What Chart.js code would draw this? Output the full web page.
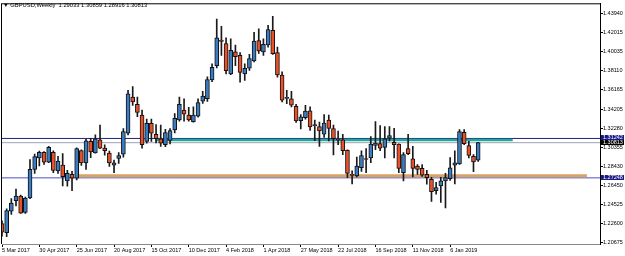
<!DOCTYPE html>
<html>
<head>
<meta charset="utf-8">
<script src="https://cdn.jsdelivr.net/npm/chart.js@4"></script>
<style>
  html, body { margin: 0; padding: 0; background: #fff; }
  #wrap { position: relative; width: 625px; height: 256px; }
  #hdr { position: absolute; left: 3px; top: 2px; font: 5.8px "Liberation Sans", Arial, sans-serif; color: #000; white-space: pre; }
</style>
</head>
<body>
<div id="wrap">
  <canvas id="myChart" width="625" height="256"></canvas>
  <div id="hdr">▼ GBPUSD,Weekly  1.29033 1.30859 1.28916 1.30813</div>
</div>
<script>
// weekly GBPUSD candles, 5 Mar 2017 .. 17 Feb 2019
const open = [1.2262,1.2170,1.2387,1.2494,1.2541,1.2374,1.2521,1.2811,1.2927,1.2984,
  1.2884,1.2984,1.2794,1.2854,1.2694,1.2761,1.2721,1.3001,1.2877,1.3094,
  1.2977,1.3111,1.3027,1.2977,1.2854,1.2921,1.2964,1.3177,1.3544,1.3471,
  1.3361,1.3094,1.3277,1.3167,1.3121,1.3061,1.3104,1.3211,1.3311,1.3411,
  1.3361,1.3294,1.3351,1.3501,1.3527,1.3717,1.3861,1.4120,1.4087,1.3777,
  1.4001,1.3967,1.3777,1.3837,1.3911,1.4117,1.4001,1.4071,1.4221,1.3994,
  1.3767,1.3530,1.3527,1.3451,1.3304,1.3334,1.3405,1.3255,1.3244,1.3167,
  1.3311,1.3224,1.3112,1.3111,1.3005,1.2760,1.2744,1.2827,1.2920,1.2927,
  1.3054,1.3071,1.3034,1.3127,1.3085,1.3067,1.2777,1.3021,1.2917,1.2844,
  1.2821,1.2761,1.2711,1.2594,1.2644,1.2694,1.2717,1.2854,1.2867,1.3187,
  1.3051,1.2944,1.29033];
const high = [1.2290,1.2410,1.2515,1.2612,1.2550,1.2530,1.2911,1.2965,1.2995,1.2990,
  1.3044,1.3000,1.2944,1.2970,1.2800,1.2790,1.3030,1.3010,1.3115,1.3125,
  1.3161,1.3261,1.3060,1.2995,1.2905,1.2980,1.3224,1.3611,1.3650,1.3544,
  1.3411,1.3321,1.3320,1.3265,1.3260,1.3217,1.3225,1.3377,1.3544,1.3527,
  1.3440,1.3445,1.3527,1.3601,1.3750,1.3880,1.4334,1.4261,1.4144,1.4134,
  1.4070,1.3995,1.3880,1.3977,1.4201,1.4234,1.4135,1.4271,1.4361,1.4050,
  1.3800,1.3611,1.3601,1.3470,1.3365,1.3461,1.3445,1.3311,1.3290,1.3365,
  1.3361,1.3260,1.3200,1.3167,1.3010,1.2795,1.2935,1.3000,1.3021,1.3144,
  1.3294,1.3254,1.3244,1.3244,1.3227,1.3070,1.2980,1.3167,1.3044,1.2860,
  1.2860,1.2800,1.2730,1.2680,1.2730,1.2770,1.2930,1.2999,1.3214,1.3214,
  1.3094,1.2960,1.30859];
const low = [1.2135,1.2130,1.2355,1.2440,1.2365,1.2365,1.2515,1.2770,1.2845,1.2860,
  1.2880,1.2777,1.2770,1.2644,1.2640,1.2594,1.2705,1.2850,1.2811,1.2930,
  1.2975,1.3020,1.2955,1.2840,1.2777,1.2870,1.2935,1.3161,1.3460,1.3344,
  1.3027,1.3077,1.3095,1.3080,1.3044,1.3040,1.3070,1.3180,1.3300,1.3300,
  1.3300,1.3290,1.3340,1.3480,1.3500,1.3700,1.3840,1.3967,1.3777,1.3770,
  1.3861,1.3694,1.3712,1.3815,1.3900,1.3985,1.3965,1.4050,1.3975,1.3745,
  1.3494,1.3477,1.3445,1.3287,1.3221,1.3320,1.3205,1.3101,1.3044,1.3135,
  1.3100,1.2958,1.3060,1.2960,1.2727,1.2664,1.2734,1.2790,1.2777,1.2880,
  1.3011,1.3000,1.2927,1.3100,1.2927,1.2777,1.2694,1.2960,1.2734,1.2760,
  1.2740,1.2660,1.2487,1.2560,1.2477,1.2421,1.2700,1.2664,1.2860,1.3060,
  1.2927,1.2787,1.28916];
const close = [1.2175,1.2394,1.2470,1.2541,1.2367,1.2521,1.2811,1.2941,1.2984,1.2884,
  1.3034,1.2801,1.2894,1.2737,1.2771,1.2721,1.3021,1.2877,1.3101,1.2987,
  1.3121,1.3027,1.3001,1.2877,1.2877,1.2951,1.3194,1.3577,1.3494,1.3387,
  1.3061,1.3277,1.3177,1.3121,1.3077,1.3184,1.3204,1.3327,1.3471,1.3371,
  1.3311,1.3361,1.3487,1.3554,1.3721,1.3844,1.4144,1.4108,1.3811,1.4017,
  1.3954,1.3794,1.3834,1.3934,1.4111,1.4011,1.4077,1.4227,1.3984,1.3767,
  1.3511,1.3536,1.3461,1.3301,1.3344,1.3401,1.3240,1.3262,1.3201,1.3280,
  1.3227,1.3121,1.3106,1.3001,1.2771,1.2750,1.2845,1.2951,1.2911,1.3067,
  1.3077,1.3027,1.3121,1.3154,1.3061,1.2821,1.2961,1.2971,1.2821,1.2811,
  1.2751,1.2727,1.2584,1.2627,1.2694,1.2727,1.2827,1.2877,1.3194,1.3071,
  1.2951,1.2887,1.30813];

// one label every 8 weeks
const tickLabels = ['5 Mar 2017', '30 Apr 2017', '25 Jun 2017', '20 Aug 2017', '15 Oct 2017',
  '10 Dec 2017', '4 Feb 2018', '1 Apr 2018', '27 May 2018', '22 Jul 2018', '16 Sep 2018',
  '11 Nov 2018', '6 Jan 2019'];
const priceTicks = [1.43940, 1.42015, 1.40035, 1.38110, 1.36165, 1.34205, 1.32280,
  1.30355, 1.28430, 1.26450, 1.24525, 1.22600, 1.20675];

// drawn levels
const resistance = 1.31242;
const support = 1.27248;
const bid = 1.30813;
const tealLevel = 1.3109;
const tanLevel = 1.2746;

const xMax = 128.1;   // room on the right (chart shift)
const yMin = 1.20545, yMax = 1.4494;

const BULL = '#3b7bc0', BEAR = '#e8512b';

function hLine(value, from, to, color, width, order) {
    return {
        type: 'line',
        data: [{ x: from, y: value }, { x: to, y: value }],
        borderColor: color,
        borderWidth: width,
        pointRadius: 0,
        order: order,
    };
}

const boxes = {
    id: 'boxes',
    afterDraw(chart) {
        const { ctx, chartArea, scales } = chart;
        const { left, top, right, bottom } = chartArea;
        ctx.save();
        ctx.strokeStyle = '#000';
        ctx.lineWidth = 1;
        ctx.beginPath();
        ctx.moveTo(left - 0.5, top);
        ctx.lineTo(left - 0.5, bottom);
        ctx.moveTo(left, top + 0.5);
        ctx.lineTo(right, top + 0.5);
        ctx.stroke();

        const tags = [
            { v: resistance, bg: '#1b1b86' },
            { v: support, bg: '#1b1b86' },
            { v: bid, bg: '#000' },
        ];
        ctx.font = '5.5px "Liberation Sans", Arial, sans-serif';
        ctx.textBaseline = 'middle';
        ctx.textAlign = 'left';
        tags.forEach(t => {
            const py = scales.y.getPixelForValue(t.v);
            ctx.fillStyle = t.bg;
            ctx.fillRect(right + 1, Math.round(py) - 3, 23, 5);
            ctx.fillStyle = '#fff';
            ctx.fillText(t.v.toFixed(5), right + 3, Math.round(py) - 0.5);
        });
        ctx.restore();
    }
};

Chart.defaults.font.family = '"Liberation Sans", Arial, sans-serif';
Chart.defaults.color = '#000';

new Chart(document.getElementById('myChart'), {
    type: 'bar',
    data: {
        datasets: [
            {
                label: 'bodies',
                data: open.map((o, i) => ({ x: i, y: [o, close[i]] })),
                backgroundColor: ctx => close[ctx.dataIndex] >= open[ctx.dataIndex] ? BULL : BEAR,
                borderColor: '#111',
                borderWidth: 1,
                borderSkipped: false,
                barThickness: 4,
                minBarLength: 1,
                grouped: false,
                order: 0,
            },
            {
                label: 'wicks',
                data: low.map((l, i) => ({ x: i, y: [l, high[i]] })),
                backgroundColor: '#1a1a1a',
                barThickness: 1,
                grouped: false,
                order: 1,
            },
            hLine(resistance, 0, xMax, '#22227e', 1, 3),
            hLine(bid, 0, xMax, '#9aa3ad', 1, 3),
            hLine(support, 0, xMax, '#4f4fc0', 1, 3),
            hLine(tealLevel, 32.8, 109.4, '#1fa99b', 2.5, 2),
            hLine(tanLevel, 16.0, 125.3, '#d8a262', 3, 2),
        ]
    },
    options: {
        responsive: false,
        devicePixelRatio: 1,
        animation: false,
        layout: { padding: { left: 2, top: 0, right: 0, bottom: 0 } },
        scales: {
            x: {
                type: 'linear',
                min: 0,
                max: xMax,
                offset: false,
                grid: {
                    offset: false,
                    drawOnChartArea: false,
                    tickLength: 3,
                    color: '#000',
                },
                border: { color: '#888' },
                ticks: {
                    autoSkip: false,
                    maxRotation: 0,
                    minRotation: 0,
                    align: 'start',
                    padding: 0,
                    font: { size: 5.5 },
                    callback: (v, i) => tickLabels[i],
                },
                afterBuildTicks: scale => {
                    scale.ticks = tickLabels.map((_, k) => ({ value: k * 8 }));
                },
                afterFit: scale => { scale.height = 12; },
            },
            y: {
                position: 'right',
                min: yMin,
                max: yMax,
                grid: {
                    drawOnChartArea: false,
                    tickLength: 3,
                    color: '#000',
                },
                border: { color: '#000' },
                ticks: {
                    padding: 0,
                    font: { size: 5.5 },
                    callback: v => v.toFixed(5),
                },
                afterBuildTicks: scale => {
                    scale.ticks = priceTicks.map(v => ({ value: v }));
                },
                afterFit: scale => { scale.width = 25; },
            },
        },
        plugins: {
            legend: { display: false },
            tooltip: { enabled: false },
        }
    },
    plugins: [boxes],
});
</script>
</body>
</html>
